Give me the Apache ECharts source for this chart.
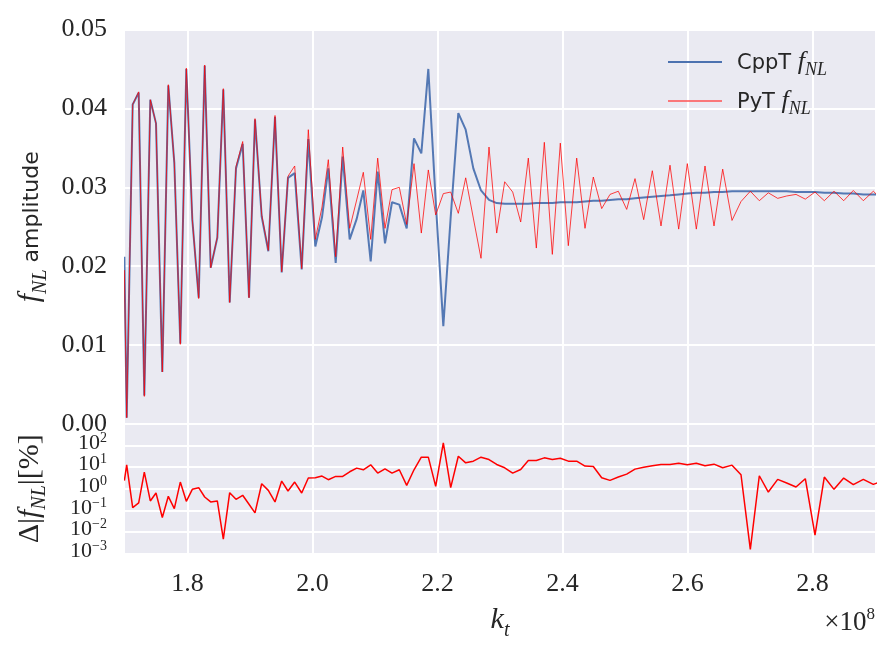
<!DOCTYPE html>
<html>
<head>
<meta charset="utf-8">
<script src="https://cdn.jsdelivr.net/npm/echarts@6/dist/echarts.min.js"></script>
<style>
html,body{margin:0;padding:0;background:#fff;}
#chart{width:894px;height:654px;}
</style>
</head>
<body>
<div id="chart"></div>
<script>
// k_t values (units of 1e8)
const kT = [1.6990,
1.7027,1.7123,1.7219,1.7309,1.7405,1.7496,1.7597,1.7693,1.7789,1.7885,
1.7981,1.8077,1.8179,1.8275,1.8371,1.8477,1.8573,1.8675,1.8776,1.8883,
1.8984,1.9080,1.9187,1.9293,1.9400,1.9507,1.9608,1.9715,1.9827,1.9933,
2.0045,2.0152,2.0253,2.0371,2.0483,2.0595,2.0707,2.0813,2.0931,2.1043,
2.1160,2.1272,2.1389,2.1507,2.1624,2.1741,2.1853,2.1971,2.2093,2.2211,
2.2333,2.2451,2.2573,2.2696,2.2824,2.2947,2.3075,2.3203,2.3331,2.3453,
2.3581,2.3709,2.3837,2.3965,2.4093,2.4227,2.4360,2.4493,2.4627,2.4760,
2.4893,2.5027,2.5160,2.5299,2.5437,2.5576,2.5720,2.5859,2.5997,2.6141,
2.6280,2.6424,2.6563,2.6712,2.6856,2.7005,2.7149,2.7293,2.7443,2.7587,
2.7736,2.7885,2.8040,2.8189,2.8344,2.8499,2.8653,2.8813,2.8973,
2.9133];

// CppT f_NL amplitude
const cppT = [0.0212,
0.0008,0.0405,0.0420,0.0036,0.0411,0.0381,0.0066,0.0429,0.0331,0.0102,
0.0450,0.0259,0.0160,0.0454,0.0198,0.0236,0.0424,0.0154,0.0324,0.0355,
0.0160,0.0386,0.0263,0.0219,0.0389,0.0192,0.0312,0.0318,0.0196,0.0361,
0.0225,0.0262,0.0324,0.0204,0.0339,0.0234,0.0260,0.0296,0.0206,0.0320,
0.0229,0.0281,0.0278,0.0248,0.0362,0.0343,0.0450,0.0283,0.0124,0.0262,
0.0394,0.0373,0.0324,0.0296,0.0284,0.0280,0.0279,0.0279,0.0279,0.0279,
0.0280,0.0280,0.0280,0.0281,0.0281,0.0281,0.0282,0.0283,0.0283,0.0284,
0.0285,0.0285,0.0286,0.0287,0.0288,0.0289,0.0290,0.0291,0.0292,0.0293,
0.0293,0.0294,0.0294,0.0295,0.0295,0.0295,0.0295,0.0295,0.0295,0.0295,
0.0294,0.0294,0.0294,0.0293,0.0293,0.0292,0.0292,0.0291,0.0291,
0.0290];

// PyT f_NL amplitude
const pyT = [0.0195,
0.0008,0.0405,0.0421,0.0035,0.0411,0.0381,0.0066,0.0430,0.0331,0.0101,
0.0451,0.0259,0.0159,0.0455,0.0198,0.0237,0.0425,0.0154,0.0326,0.0358,
0.0160,0.0387,0.0265,0.0220,0.0391,0.0193,0.0314,0.0327,0.0197,0.0373,
0.0234,0.0275,0.0335,0.0212,0.0351,0.0248,0.0284,0.0319,0.0234,0.0337,
0.0248,0.0297,0.0300,0.0253,0.0330,0.0242,0.0322,0.0265,0.0292,0.0294,
0.0267,0.0312,0.0261,0.0210,0.0351,0.0242,0.0307,0.0294,0.0256,0.0337,
0.0223,0.0357,0.0215,0.0356,0.0226,0.0337,0.0248,0.0313,0.0273,0.0291,
0.0295,0.0272,0.0311,0.0259,0.0321,0.0251,0.0328,0.0247,0.0330,0.0247,
0.0327,0.0251,0.0323,0.0258,0.0282,0.0295,0.0283,0.0293,0.0286,0.0289,
0.0291,0.0285,0.0294,0.0283,0.0295,0.0283,0.0296,0.0283,0.0295,
0.0283];

// Relative difference Delta|f_NL| in percent
const deltaPct = [2.4,
12.9,0.134,0.220,5.9,0.272,0.635,0.0465,0.447,0.121,2.04,
0.262,0.938,1.12,0.416,0.245,0.272,0.00466,0.659,0.325,0.497,
0.191,0.0762,1.71,0.843,0.245,2.27,0.787,2.04,0.635,3.13,
3.24,3.86,2.62,3.72,3.72,6.11,9.02,7.57,12.9,5.31,
8.41,5.31,7.57,1.44,7.57,29.0,29.0,1.29,133,1.12,
32.2,15.9,19.0,29.0,22.6,13.3,9.35,5.31,7.83,20.4,
20.4,27.0,22.6,26.1,19.0,19.0,11.2,10.8,3.24,2.44,
3.48,4.78,8.11,10.0,11.6,13.3,13.3,15.3,12.9,15.3,
11.6,13.8,9.35,12.4,4.45,0.00156,4.0,0.706,2.71,1.84,
1.20,2.91,0.00713,3.48,0.938,3.13,1.54,2.71,1.60,
2.4];

// tick labels
const xTickLabels = ['1.8','2.0','2.2','2.4','2.6','2.8'];
const yTickLabels = ['0.00','0.01','0.02','0.03','0.04','0.05'];
const logTickExps = [-2,-1,0,1,2];   // labelled on the main log axis
const logTickExpsLow = [-3];         // labelled on the companion axis

const SERIF = '"Liberation Serif", "DejaVu Serif", serif';
const SANS = '"DejaVu Sans", "Liberation Sans", sans-serif';
const TXT = '#262626';
const BG = '#EAEAF2';

const chart = echarts.init(document.getElementById('chart'), null, {renderer: 'canvas'});

const gridL = 125, gridW = 750;

function xLabel(v) {
  const s = v.toFixed(1);
  return xTickLabels.indexOf(s) >= 0 ? s : '';
}
function makeLogLabel(exps) {
  return function (v) {
    const e = Math.round(Math.log10(v));
    if (exps.indexOf(e) < 0) return '';
    return '{b|10}{s|' + (e < 0 ? '\u2212' + (-e) : String(e)) + '}';
  };
}
const logRich = {
  b: {fontFamily: SERIF, fontSize: 22, color: TXT, lineHeight: 17, verticalAlign: 'bottom'},
  s: {fontFamily: SERIF, fontSize: 14, color: TXT, lineHeight: 10, verticalAlign: 'bottom', padding: [0,0,9,0]}
};

const option = {
  animation: false,
  backgroundColor: '#ffffff',
  grid: [
    {left: gridL, top: 29.5, width: gridW, height: 394.5, show: true, backgroundColor: BG, borderWidth: 0},
    {left: gridL, top: 424, width: gridW, height: 129.5, show: true, backgroundColor: BG, borderWidth: 0}
  ],
  xAxis: [
    {
      type: 'value', gridIndex: 0, min: 1.7, max: 2.9, interval: 0.1,
      axisLine: {show: false}, axisTick: {show: false}, axisLabel: {show: false},
      splitLine: {show: true, lineStyle: {color: ['rgba(255,255,255,0)', '#ffffff'], width: 2}}
    },
    {
      type: 'value', gridIndex: 1, min: 1.7, max: 2.9, interval: 0.1,
      axisLine: {show: false}, axisTick: {show: false},
      axisLabel: {show: true, formatter: xLabel, color: TXT, fontFamily: SERIF, fontSize: 26, margin: 18},
      splitLine: {show: true, lineStyle: {color: ['rgba(255,255,255,0)', '#ffffff'], width: 2}},
      name: '{m|k}{sub|t}', nameLocation: 'middle', nameGap: 52,
      nameTextStyle: {
        color: TXT,
        rich: {
          m: {fontFamily: SERIF, fontStyle: 'italic', fontSize: 30, color: TXT, verticalAlign: 'bottom'},
          sub: {fontFamily: SERIF, fontStyle: 'italic', fontSize: 20, color: TXT, verticalAlign: 'bottom', padding: [0,0,-5,0]}
        }
      }
    }
  ],
  yAxis: [
    {
      type: 'value', gridIndex: 0, min: 0, max: 0.05, interval: 0.01,
      axisLine: {show: false}, axisTick: {show: false},
      axisLabel: {formatter: v => yTickLabels[Math.round(v * 100)] || '', color: TXT, fontFamily: SERIF, fontSize: 26, margin: 18,
                  showMinLabel: true, showMaxLabel: true},
      splitLine: {show: true, lineStyle: {color: '#ffffff', width: 2}},
      name: '{m|f}{sub|NL}{t| amplitude}', nameLocation: 'middle', nameRotate: 90, nameGap: 78,
      nameTextStyle: {
        color: TXT,
        rich: {
          m: {fontFamily: SERIF, fontStyle: 'italic', fontSize: 30, color: TXT, verticalAlign: 'bottom'},
          sub: {fontFamily: SERIF, fontStyle: 'italic', fontSize: 20, color: TXT, verticalAlign: 'bottom', padding: [0,0,-5,0]},
          t: {fontFamily: SANS, fontSize: 22, color: TXT, verticalAlign: 'bottom', padding: [0,0,2,0]}
        }
      }
    },
    {
      type: 'log', gridIndex: 1, logBase: 10, min: 0.001, max: 1000, splitNumber: 6, position: 'left',
      axisLine: {show: false}, axisTick: {show: false},
      axisLabel: {formatter: makeLogLabel(logTickExps), color: TXT, margin: 18, rich: logRich},
      splitLine: {show: true, lineStyle: {color: '#ffffff', width: 2}},
      name: '\u0394|{m|f}{sub|NL}|[%]', nameLocation: 'middle', nameRotate: 90, nameGap: 80,
      nameTextStyle: {
        color: TXT, fontFamily: SERIF, fontSize: 30,
        rich: {
          m: {fontFamily: SERIF, fontStyle: 'italic', fontSize: 30, color: TXT, verticalAlign: 'bottom'},
          sub: {fontFamily: SERIF, fontStyle: 'italic', fontSize: 20, color: TXT, verticalAlign: 'bottom', padding: [0,0,-5,0]}
        }
      }
    },
    {
      type: 'log', gridIndex: 1, logBase: 10, min: 0.001, max: 1000, splitNumber: 6, position: 'left', offset: 0,
      axisLine: {show: false}, axisTick: {show: false}, splitLine: {show: false},
      axisLabel: {formatter: makeLogLabel(logTickExpsLow), color: TXT, margin: 18, showMinLabel: true, rich: logRich}
    }
  ],
  legend: {
    show: true, orient: 'vertical', left: 663, top: 44, itemWidth: 54, itemHeight: 2, itemGap: 9,
    icon: 'rect',
    data: [
      {name: 'CppT', itemStyle: {color: '#4C72B0', opacity: 1}},
      {name: 'PyT', itemStyle: {color: 'rgba(255,80,80,0.75)'}}
    ],
    formatter: name => '{sp|}{t|' + name + ' }{m|f}{sub|NL}',
    textStyle: {
      color: TXT,
      rich: {
        sp: {width: 10},
        t: {fontFamily: SANS, fontSize: 21, color: TXT, verticalAlign: 'bottom', padding: [0,0,1,0]},
        m: {fontFamily: SERIF, fontStyle: 'italic', fontSize: 26, color: TXT, verticalAlign: 'bottom'},
        sub: {fontFamily: SERIF, fontStyle: 'italic', fontSize: 18, color: TXT, verticalAlign: 'bottom', padding: [0,0,-4,0]}
      }
    }
  },
  graphic: [
    {
      type: 'text', z: 10,
      style: {
        x: 875, y: 622, align: 'right', verticalAlign: 'middle',
        text: '{b|\u00d710}{s|8}',
        rich: {
          b: {fontFamily: SERIF, fontSize: 27, fill: TXT, lineHeight: 28, verticalAlign: 'bottom'},
          s: {fontFamily: SERIF, fontSize: 17, fill: TXT, lineHeight: 16, verticalAlign: 'bottom', padding: [0,0,13,0]}
        }
      }
    }
  ],
  series: [
    {
      name: 'CppT', type: 'line', xAxisIndex: 0, yAxisIndex: 0, showSymbol: false, symbol: 'none',
      data: kT.map((k, i) => [k, cppT[i]]),
      lineStyle: {color: '#4C72B0', width: 2, opacity: 0.95}, itemStyle: {color: '#4C72B0'}, z: 2, clip: true
    },
    {
      name: 'PyT', type: 'line', xAxisIndex: 0, yAxisIndex: 0, showSymbol: false, symbol: 'none',
      data: kT.map((k, i) => [k, pyT[i]]),
      lineStyle: {color: '#ff0000', width: 1, opacity: 0.75}, itemStyle: {color: '#ff0000'}, z: 3, clip: true
    },
    {
      name: 'Delta', type: 'line', xAxisIndex: 1, yAxisIndex: 1, showSymbol: false, symbol: 'none',
      data: kT.map((k, i) => [k, deltaPct[i]]),
      lineStyle: {color: '#ff0000', width: 1.5}, itemStyle: {color: '#ff0000'}, z: 3, clip: true
    }
  ]
};
chart.setOption(option);
</script>
</body>
</html>
